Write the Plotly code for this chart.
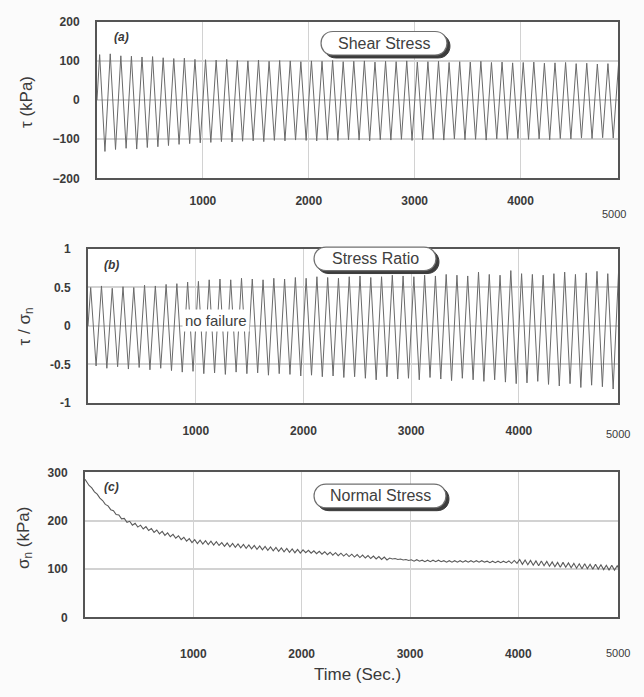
import numpy as np
import plotly.graph_objects as go

# ---- data -------------------------------------------------------------
# Shear stress (kPa): peak and trough of each 100 s loading cycle
shear_peaks = [116, 118, 113, 112, 110, 111, 108, 106, 107, 104,
               103, 102, 104, 101, 100, 102, 99, 101, 100, 98,
               100, 99, 101, 98, 99, 100, 97, 99, 98, 100,
               97, 98, 99, 96, 98, 97, 99, 96, 97, 95,
               96, 97, 94, 95, 96, 93, 94, 92, 93, 91]
shear_troughs = [-131, -126, -123, -125, -121, -119, -116, -113, -111, -109,
                 -108, -106, -107, -105, -104, -106, -103, -104, -102, -103,
                 -104, -102, -103, -101, -102, -104, -101, -102, -100, -103,
                 -101, -100, -102, -99, -101, -100, -102, -99, -100, -98,
                 -100, -99, -101, -98, -99, -97, -98, -96, -97, -95]

# Stress ratio tau / sigma_n: peak and trough of each cycle
ratio_peaks = [0.50, 0.52, 0.49, 0.51, 0.50, 0.53, 0.52, 0.54, 0.55, 0.57,
               0.58, 0.60, 0.61, 0.60, 0.62, 0.61, 0.60, 0.62, 0.61, 0.63,
               0.62, 0.64, 0.63, 0.62, 0.64, 0.65, 0.63, 0.64, 0.66, 0.65,
               0.64, 0.66, 0.65, 0.67, 0.66, 0.65, 0.70, 0.67, 0.66, 0.72,
               0.68, 0.67, 0.66, 0.68, 0.70, 0.67, 0.69, 0.71, 0.68, 0.70]
ratio_troughs = [-0.52, -0.55, -0.53, -0.56, -0.54, -0.57, -0.55, -0.58, -0.60, -0.59,
                 -0.62, -0.61, -0.63, -0.60, -0.62, -0.61, -0.64, -0.62, -0.63, -0.65,
                 -0.64, -0.66, -0.65, -0.67, -0.66, -0.68, -0.70, -0.66, -0.69, -0.68,
                 -0.70, -0.67, -0.69, -0.71, -0.68, -0.70, -0.72, -0.70, -0.73, -0.75,
                 -0.74, -0.72, -0.76, -0.78, -0.75, -0.80, -0.77, -0.79, -0.82, -0.80]

# Normal stress (kPa): upper and lower value of each 50 s wiggle
normal_start = 286
normal_upper = [281, 268, 255, 242, 231, 221, 212, 205, 199, 195,
                191, 188, 184, 181, 178, 175, 172, 169, 166, 163,
                161, 160, 159, 158, 157, 155, 154, 153, 152, 151,
                150, 149, 148, 147, 146, 145, 144, 143, 142, 141,
                140, 139, 138, 137, 136, 135, 134, 133, 132, 131,
                130, 129, 128, 127, 126, 125, 123, 122, 121, 120,
                119.5, 119.5, 118.5, 118.5, 118.5, 118.5, 117.5, 117.5, 117.5, 117.5,
                117.5, 117.5, 117.5, 117.5, 116.5, 116.5, 116.5, 116.5, 117, 118,
                120, 119, 118, 117, 117, 116, 115, 114, 114, 113,
                112, 111, 111, 110, 110, 109, 108, 108, 107, 106]
normal_lower = [273, 260, 247, 234, 223, 213, 204, 197, 191, 187,
                183, 180, 176, 173, 170, 167, 164, 161, 158, 155,
                153, 152, 151, 150, 149, 147, 146, 145, 144, 143,
                142, 141, 140, 139, 138, 137, 136, 135, 134, 133,
                134, 133, 132, 131, 130, 129, 128, 127, 126, 125,
                124, 123, 122, 121, 120, 119, 121, 120, 119, 118,
                116.5, 116.5, 115.5, 115.5, 115.5, 115.5, 114.5, 114.5, 114.5, 114.5,
                114.5, 114.5, 114.5, 114.5, 113.5, 113.5, 113.5, 113.5, 112, 112,
                110, 109, 108, 107, 107, 106, 105, 104, 104, 103,
                102, 101, 101, 100, 100, 99, 98, 98, 97, 96]

x_ticks = [1000, 2000, 3000, 4000]
x_ticktext = ["1000", "2000", "3000", "4000"]
panel_labels = ["(a)", "(b)", "(c)"]
panel_titles = ["Shear Stress", "Stress Ratio", "Normal Stress"]


def cycle_series(peaks, troughs, period, start=0.0, end=0.0):
    """Interleave per-cycle extremes into one zig-zag time series."""
    t, v = [0.0], [start]
    for k, (p, q) in enumerate(zip(peaks, troughs)):
        t += [k * period + period * 0.25, k * period + period * 0.75]
        v += [p, q]
    t.append(len(peaks) * period)
    v.append(end)
    return t, v


t_a, v_a = cycle_series(shear_peaks, shear_troughs, 100.0)
t_b, v_b = cycle_series(ratio_peaks, ratio_troughs, 100.0)
t_c, v_c = cycle_series(normal_upper, normal_lower, 50.0,
                        start=normal_start, end=normal_lower[-1])

# ---- figure -----------------------------------------------------------
W, H = 644, 697
FONT = "Liberation Sans, Arial, sans-serif"
INK = "#3a3a3a"
LINE = "#6a6a6a"
GRID = "#d2d2d2"


def px(x):
    return x / W


def py(y):
    return 1 - y / H


fig = go.Figure()
fig.add_trace(go.Scatter(x=t_a, y=v_a, mode="lines", xaxis="x", yaxis="y",
                         line=dict(color=LINE, width=1), showlegend=False))
fig.add_trace(go.Scatter(x=t_b, y=v_b, mode="lines", xaxis="x2", yaxis="y2",
                         line=dict(color=LINE, width=1), showlegend=False))
fig.add_trace(go.Scatter(x=t_c, y=v_c, mode="lines", xaxis="x3", yaxis="y3",
                         line=dict(color="#5a5a5a", width=1.1), showlegend=False))

# plot boxes in pixels: (left, top, right, bottom)
boxes = [(97, 15, 618, 175), (88, 247, 618, 404), (85, 475, 618, 623)]
y_specs = [
    dict(range=[-200, 200], tickvals=[-200, -100, 0, 100, 200]),
    dict(range=[-1, 1], tickvals=[-1, -0.5, 0, 0.5, 1],
         ticktext=["-1", "-0.5", "0", "0.5", "1"]),
    dict(range=[0, 300], tickvals=[0, 100, 200, 300]),
]
x_standoff = [10, 16, 24]

axis_font = dict(family=FONT, size=12, color=INK, weight="bold")
layout = dict(width=W, height=H, margin=dict(l=0, r=0, t=0, b=0),
              paper_bgcolor="#fbfbfb", plot_bgcolor="#ffffff",
              font=dict(family=FONT, color=INK), showlegend=False)

for i, ((l, t, r, b), ys) in enumerate(zip(boxes, y_specs)):
    sfx = "" if i == 0 else str(i + 1)
    layout["xaxis" + sfx] = dict(
        domain=[px(l), px(r)], range=[0, 4920], anchor="y" + sfx,
        tickvals=x_ticks, ticktext=x_ticktext, ticks="",
        ticklabelstandoff=x_standoff[i], tickfont=axis_font,
        showgrid=True, gridcolor=GRID, gridwidth=1, zeroline=False,
        showline=True, mirror=True, linecolor="#555555", linewidth=2)
    layout["yaxis" + sfx] = dict(
        domain=[py(b), py(t)], anchor="x" + sfx, ticks="",
        ticklabelstandoff=13, tickfont=axis_font,
        showgrid=True, gridcolor=GRID, gridwidth=1.5, zeroline=False,
        showline=True, mirror=True, linecolor="#555555", linewidth=2, **ys)

fig.update_layout(**layout)

annotations = []
shapes = []


def note(x, y, text, **kw):
    """Centred paper-space text placed by pixel position."""
    return dict(x=px(x), y=py(y), xref="paper", yref="paper", text=text,
                showarrow=False, xanchor="center", yanchor="middle", **kw)


def pill(cx, cy, w, h, **kw):
    """Rounded-end box as a path in paper coordinates."""
    r = h / 2
    x0, x1 = cx - w / 2, cx + w / 2
    y0, y1 = cy - h / 2, cy + h / 2
    path = (f"M {px(x0 + r)},{py(y0)} L {px(x1 - r)},{py(y0)} "
            f"C {px(x1 + r * 0.33)},{py(y0)} {px(x1 + r * 0.33)},{py(y1)} {px(x1 - r)},{py(y1)} "
            f"L {px(x0 + r)},{py(y1)} "
            f"C {px(x0 - r * 0.33)},{py(y1)} {px(x0 - r * 0.33)},{py(y0)} {px(x0 + r)},{py(y0)} Z")
    return dict(type="path", xref="paper", yref="paper", path=path, layer="above", **kw)


label_pos = [(121, 31), (111, 263), (111, 490)]
title_pos = [(384, 37, 126), (375, 257, 122), (380, 499, 132)]
five_k_pos = [(614, 211), (618, 436), (618, 659)]

for lab, (lx, ly) in zip(panel_labels, label_pos):
    annotations.append(note(lx, ly, f"<b><i>{lab}</i></b>",
                            font=dict(family=FONT, size=12, color=INK)))

for name, (cx, cy, w) in zip(panel_titles, title_pos):
    shapes.append(pill(cx + 3, cy + 3, w, 24, fillcolor="#3c3c3c",
                       line=dict(color="#3c3c3c", width=1)))
    shapes.append(pill(cx, cy, w, 24, fillcolor="#ffffff",
                       line=dict(color="#707070", width=1.2)))
    annotations.append(note(cx, cy, name,
                            font=dict(family=FONT, size=16, color="#404040")))

for fx, fy in five_k_pos:
    annotations.append(note(fx, fy, "5000",
                            font=dict(family=FONT, size=11, color=INK)))

annotations.append(note(216, 320, "no failure", bgcolor="#ffffff", borderpad=2,
                        font=dict(family=FONT, size=15, color="#404040")))

y_titles = [("τ (kPa)", 26, 97), ("τ / σ<sub>n</sub>", 26, 326),
            ("σ<sub>n</sub> (kPa)", 25, 542)]
for text, tx, ty in y_titles:
    annotations.append(note(tx, ty, text, textangle=-90,
                            font=dict(family=FONT, size=17, color=INK)))

annotations.append(note(357, 681, "Time (Sec.)",
                        font=dict(family=FONT, size=17, color=INK)))

fig.update_layout(annotations=annotations, shapes=shapes)
fig.write_html("out.html")
